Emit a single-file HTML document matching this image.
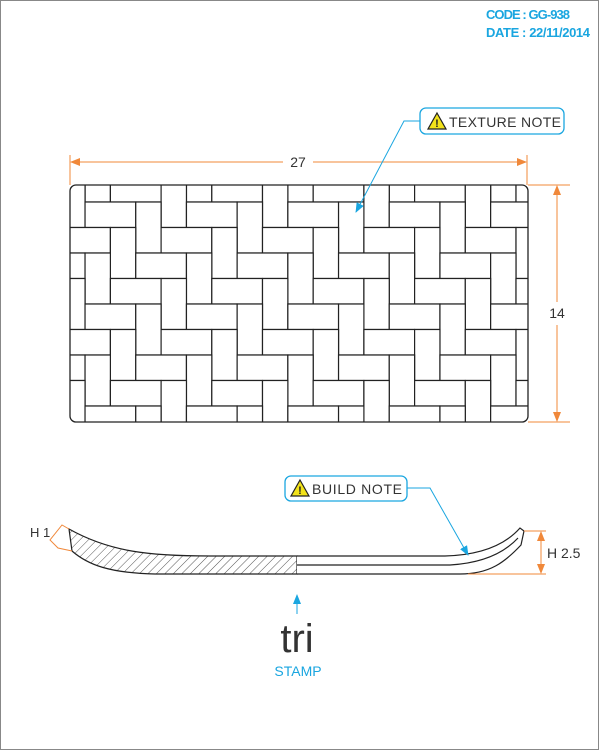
<!DOCTYPE html>
<html><head><meta charset="utf-8"><style>
html,body{margin:0;padding:0;background:#fff}
svg{display:block}
text{font-family:"Liberation Sans",sans-serif}
</style></head><body>
<svg id="dwg" width="600" height="750" viewBox="0 0 600 750">
<defs>
<marker id="ao" markerWidth="10" markerHeight="8" refX="9" refY="4" orient="auto-start-reverse" markerUnits="userSpaceOnUse"><path d="M0,0 L10,4 L0,8 z" fill="#f0883a"/></marker>
<marker id="ab" markerWidth="10" markerHeight="8" refX="9" refY="4" orient="auto" markerUnits="userSpaceOnUse"><path d="M0,0 L10,4 L0,8 z" fill="#1aa6e0"/></marker>
<clipPath id="clipR"><rect x="70" y="185" width="458" height="237" rx="6"/></clipPath>
<pattern id="hatch" width="6" height="6" patternUnits="userSpaceOnUse" patternTransform="rotate(45)"><line x1="0" y1="0" x2="0" y2="6" stroke="#555" stroke-width="1"/></pattern>
</defs>
<rect x="0.5" y="0.5" width="598" height="749" fill="none" stroke="#888"/>
<text x="486" y="19" fill="#1aa6e0" font-size="13" font-weight="bold" textLength="84">CODE : GG-938</text>
<text x="486" y="37" fill="#1aa6e0" font-size="13" font-weight="bold" textLength="104">DATE : 22/11/2014</text>

<g>
<g id="bricks" clip-path="url(#clipR)" stroke="#222" stroke-width="1.2" fill="#fff"></g>
<rect x="70" y="185" width="458" height="237" rx="6" fill="none" stroke="#222" stroke-width="1.3"/>
</g>

<g stroke="#f0883a" stroke-width="1" fill="none">
<line x1="70" y1="155" x2="70" y2="185"/><line x1="527" y1="155" x2="527" y2="185"/>
<line x1="71" y1="162" x2="283" y2="162" marker-start="url(#ao)"/>
<line x1="313" y1="162" x2="526" y2="162" marker-end="url(#ao)"/>
</g>
<text x="298" y="167" text-anchor="middle" font-size="14" fill="#333">27</text>
<g stroke="#f0883a" stroke-width="1" fill="none">
<line x1="528" y1="185" x2="570" y2="185"/><line x1="528" y1="422" x2="570" y2="422"/>
<line x1="557" y1="186" x2="557" y2="302" marker-start="url(#ao)"/>
<line x1="557" y1="325" x2="557" y2="421" marker-end="url(#ao)"/>
</g>
<text x="557" y="318" text-anchor="middle" font-size="14" fill="#333">14</text>

<g>
<polyline points="420,121 404,121 356,212" fill="none" stroke="#1aa6e0" stroke-width="1" marker-end="url(#ab)"/>
<rect x="420" y="108" width="144" height="26" rx="6" fill="#fff" stroke="#1aa6e0" stroke-width="1.3"/>
<path d="M437,113 L446,129 L428,129 z" fill="#f2e21a" stroke="#222" stroke-width="1.2"/>
<text x="437" y="127" text-anchor="middle" font-size="11" font-weight="bold" fill="#222">!</text>
<text x="449" y="127" font-size="14" fill="#333" textLength="112">TEXTURE NOTE</text>
</g>

<g stroke="#222" stroke-width="1.2">
<path d="M69,529 C110,552 150,556 210,556 L297,556 L297,574 L155,574 C110,573 88,565 72,551 Z" fill="url(#hatch)"/>
<path d="M297,556 L445,556 C480,555 505,545 520,528 L524,531 L521,545 C505,562 490,574 460,574 L297,574" fill="#fff"/>
<path d="M297,565 L450,565 C485,563 505,552 518,538" fill="none"/>
</g>
<g stroke="#f0883a" stroke-width="1" fill="none">
<polyline points="69,529 62,525 50,540 58,548 72,551"/>
</g>
<text x="30" y="537" font-size="13" fill="#333">H 1</text>
<g stroke="#f0883a" stroke-width="1" fill="none">
<line x1="524" y1="531" x2="546" y2="531"/><line x1="468" y1="574" x2="546" y2="574"/>
<line x1="541" y1="540" x2="541" y2="532" marker-end="url(#ao)"/>
<line x1="541" y1="566" x2="541" y2="573" marker-end="url(#ao)"/>
<line x1="541" y1="540" x2="541" y2="566"/>
</g>
<text x="547" y="558" font-size="14" fill="#333">H 2.5</text>

<g>
<polyline points="407,488 430,488 468,555" fill="none" stroke="#1aa6e0" stroke-width="1" marker-end="url(#ab)"/>
<rect x="285" y="476" width="122" height="25" rx="6" fill="#fff" stroke="#1aa6e0" stroke-width="1.3"/>
<path d="M300,480 L309,496 L291,496 z" fill="#f2e21a" stroke="#222" stroke-width="1.2"/>
<text x="300" y="494" text-anchor="middle" font-size="11" font-weight="bold" fill="#222">!</text>
<text x="312" y="494" font-size="14" fill="#333" textLength="90">BUILD NOTE</text>
</g>

<g>
<line x1="297" y1="614" x2="297" y2="595" stroke="#1aa6e0" stroke-width="1" marker-end="url(#ab)"/>
<text x="297" y="652" text-anchor="middle" font-size="40" fill="#333" font-family="DejaVu Sans Mono">tri</text>
<text x="298" y="676" text-anchor="middle" font-size="14" fill="#1aa6e0">STAMP</text>
</g>
</svg>
<script>
const cols = 20;
const rows = 11;
const unitX = 25.35, unitY = 25.5, x0 = 59.7, y0 = 176.5;
const g = document.getElementById('bricks');
const NS = 'http://www.w3.org/2000/svg';
for (let r = -1; r < rows; r++) {
  for (let c = -1; c < cols; c++) {
    const d = ((c + r + 2) % 4 + 4) % 4;
    let w = 0, h = 0;
    if (d === 0) { w = 2; h = 1; }
    else if (d === 2) { w = 1; h = 2; }
    else continue;
    const el = document.createElementNS(NS, 'rect');
    el.setAttribute('x', x0 + c * unitX);
    el.setAttribute('y', y0 + r * unitY);
    el.setAttribute('width', w * unitX);
    el.setAttribute('height', h * unitY);
    
    
    g.appendChild(el);
  }
}
</script>
</body></html>
